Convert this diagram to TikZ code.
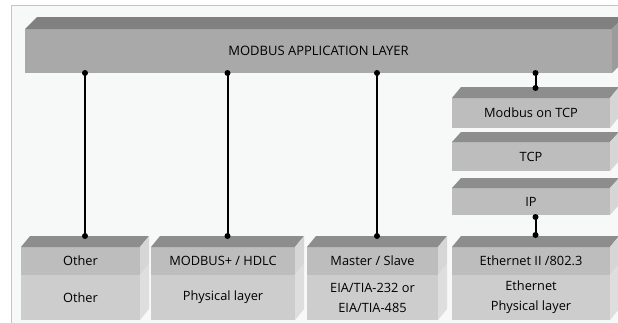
\documentclass[tikz,border=0pt]{standalone}
\usepackage{fontspec}
\setmainfont{Open Sans}
\usetikzlibrary{calc}
\definecolor{framebg}{HTML}{F7F8F8}
\definecolor{frameline}{HTML}{C4C4C4}
\definecolor{apptop}{HTML}{808080}
\definecolor{appfront}{HTML}{A9A9A9}
\definecolor{appside}{HTML}{9C9C9C}
\definecolor{boxtop}{HTML}{8D8D8D}
\definecolor{boxfront}{HTML}{BDBDBD}
\definecolor{boxside}{HTML}{D6D6D6}
\definecolor{lowfront}{HTML}{CDCDCD}
\definecolor{lowside}{HTML}{DEDEDE}
\newcommand\boxfaces[5]{%
  \fill[#4] (#1.north west) -- ++(#2,-#3) -- ($(#1.north east)+(#2,-#3)$) -- (#1.north east) -- cycle;
  \fill[#5] (#1.north east) -- ++(#2,-#3) -- ($(#1.south east)+(#2,-#3)$) -- (#1.south east) -- cycle;}
\newcommand\sideface[4]{%
  \fill[#4] (#1.north east) -- ++(#2,-#3) -- ($(#1.south east)+(#2,-#3)$) -- (#1.south east) -- cycle;}
\begin{document}
\begin{tikzpicture}[x=1pt,y=-1pt,
  face/.style={inner sep=0pt, outer sep=0pt, anchor=north west, align=center,
    font=\fontsize{12.8}{20}\selectfont},
  appface/.style={face, fill=appfront, font=\fontsize{13}{15}\selectfont},
  stackface/.style={face, fill=boxfront},
  lowface/.style={face, fill=lowfront},
  conn/.style={line width=2pt, black},
  dot/.style={black}]
\useasboundingbox (0,0) rectangle (618,322);
\clip (0,0) rectangle (618,322);
\fill[white] (0,0) rectangle (618,322);
\draw[frameline, line width=1.2pt, fill=framebg] (11.5,5.5) rectangle (640,340);

% application layer
\node[appface, minimum width=587pt, minimum height=44pt] (app) at (25,29) {MODBUS APPLICATION LAYER};
\boxfaces{app}{12}{12}{apptop}{appside}

% TCP/IP stack
\node[stackface, minimum width=158pt, minimum height=30pt] (mtcp) at (452,98) {Modbus on TCP};
\boxfaces{mtcp}{9}{11}{boxtop}{boxside}
\node[stackface, minimum width=158pt, minimum height=29pt] (tcp) at (452,142) {TCP};
\boxfaces{tcp}{9}{10}{boxtop}{boxside}
\node[stackface, minimum width=158pt, minimum height=27pt] (ip) at (452,188) {IP};
\boxfaces{ip}{9}{10}{boxtop}{boxside}

% bottom boxes
\node[stackface, minimum width=119pt, minimum height=28pt] (other) at (21,247) {Other};
\node[lowface, minimum width=119pt, minimum height=45pt] (otherphy) at (21,275) {Other};
\boxfaces{other}{9}{11}{boxtop}{boxside}
\sideface{otherphy}{9}{11}{lowside}

\node[stackface, minimum width=144pt, minimum height=28pt] (mbp) at (151,247) {MODBUS+ / HDLC};
\node[lowface, minimum width=144pt, minimum height=45pt] (mbpphy) at (151,275) {Physical layer};
\boxfaces{mbp}{9}{11}{boxtop}{boxside}
\sideface{mbpphy}{9}{11}{lowside}

\node[stackface, minimum width=131pt, minimum height=28pt] (ms) at (307,247) {Master / Slave};
\node[lowface, minimum width=131pt, minimum height=45pt] (msphy) at (307,275) {EIA/TIA-232 or\\EIA/TIA-485};
\boxfaces{ms}{9}{11}{boxtop}{boxside}
\sideface{msphy}{9}{11}{lowside}

\node[stackface, minimum width=158pt, minimum height=28pt] (eth) at (452,247) {Ethernet II /802.3};
\node[lowface, minimum width=158pt, minimum height=45pt] (ethphy) at (452,275) {Ethernet\\Physical layer};
\boxfaces{eth}{9}{11}{boxtop}{boxside}
\sideface{ethphy}{9}{11}{lowside}

% connector end points (top edge of each lower box's top face)
\coordinate (otherTop) at ($(other.north)+(4.5,-11)$);
\coordinate (mbpTop) at ($(mbp.north)+(4.5,-11)$);
\coordinate (msTop) at ($(ms.north)+(4.5,-11)$);
\coordinate (mtcpTop) at ($(mtcp.north)+(4.5,-10)$);
\coordinate (ethTop) at ($(eth.north)+(4.5,-12)$);
\coordinate (ipBot) at ($(ip.south)+(4.5,2)$);

\foreach \t in {otherTop,mbpTop,msTop,mtcpTop}{
  \draw[conn] (\t |- app.south) -- (\t);
  \fill[dot] (\t |- app.south) circle (3pt);
  \fill[dot] (\t) circle (3pt);
}
\draw[conn] (ipBot) -- (ethTop);
\fill[dot] (ipBot) circle (3pt);
\fill[dot] (ethTop) circle (3pt);
\end{tikzpicture}
\end{document}
